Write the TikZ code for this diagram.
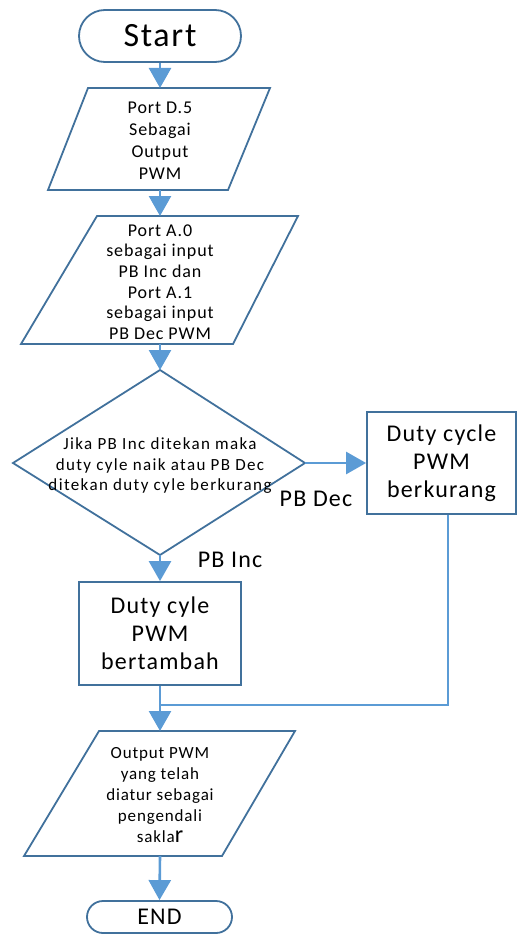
\documentclass[tikz,border=0pt]{standalone}
\usepackage{fontspec}
\setmainfont{Carlito}[LetterSpace=5]
\newfontfamily\widefont{Carlito}[LetterSpace=8]
\usetikzlibrary{arrows.meta,shapes.misc}
\definecolor{bord}{HTML}{41719C}
\definecolor{arrc}{HTML}{5B9BD5}
\begin{document}
\begin{tikzpicture}[x=1pt,y=-1pt,
  shp/.style={draw=bord, line width=1.8pt, line join=miter},
  term/.style={rounded rectangle, draw=bord, line width=1.8pt, inner sep=0pt},
  pbox/.style={rectangle, draw=bord, line width=1.8pt, inner sep=0pt, align=center},
  txt/.style={align=center, inner sep=0pt},
  arr/.style={draw=arrc, line width=2.6pt, -{Triangle[length=20pt,width=22pt]}},
  ln/.style={draw=arrc, line width=2.6pt},
  lbl/.style={inner sep=0pt, font=\fontsize{24}{28}\selectfont}]
\useasboundingbox (0,0) rectangle (518,934);
% Start
\node[term, minimum width=162pt, minimum height=52pt, font=\fontsize{34}{38}\selectfont] (start) at (160,36) {Start};
% Parallelogram 1
\draw[shp] (88,88) -- (270,88) -- (228,190) -- (48,190) -- cycle;
\coordinate (p1t) at (160,88);
\coordinate (p1b) at (160,190);
\node[txt, font=\fontsize{18}{22}\selectfont] (p1) at (160,141) {Port D.5\\Sebagai\\Output\\PWM};
% Parallelogram 2
\draw[shp] (97,216) -- (298,216) -- (233,344) -- (21,344) -- cycle;
\coordinate (p2t) at (160,216);
\coordinate (p2b) at (160,344);
\node[txt, font=\fontsize{18}{20.6}\selectfont] (p2) at (160,282) {Port A.0\\sebagai input\\PB Inc dan\\Port A.1\\sebagai input\\PB Dec PWM};
% Diamond
\draw[shp] (160,370) -- (305,463) -- (160,555) -- (13,463) -- cycle;
\coordinate (dt) at (160,370);
\coordinate (dr) at (305,463);
\coordinate (db) at (160,555);
\node[txt, font=\widefont\fontsize{17}{20.5}\selectfont] (d) at (160,466) {Jika PB Inc ditekan maka\\duty cyle naik atau PB Dec\\ditekan duty cyle berkurang};
% Right box
\node[pbox, minimum width=149pt, minimum height=102pt, font=\fontsize{24}{28}\selectfont] (r) at (441.5,463) {Duty cycle\\PWM\\berkurang};
% Box 2
\node[pbox, minimum width=162pt, minimum height=103pt, font=\fontsize{24}{28}\selectfont] (b2) at (160,633.5) {Duty cyle\\PWM\\bertambah};
% Parallelogram 3
\draw[shp] (99,731) -- (295,731) -- (222,856) -- (24,856) -- cycle;
\coordinate (p3t) at (160,731);
\coordinate (p3b) at (160,856);
\node[txt, font=\fontsize{17}{21}\selectfont] (p3) at (160,795) {Output PWM\\yang telah\\diatur sebagai\\pengendali\\sakla{\fontsize{24}{21}\selectfont r}};
% End
\node[term, minimum width=145pt, minimum height=32pt, font=\fontsize{24}{26}\selectfont] (end) at (159.5,917) {END};
% Labels
\node[lbl] (lpbdec) at (316,499) {PB Dec};
\node[lbl] (lpbinc) at (230,560) {PB Inc};
\coordinate (mg) at (160,705);
% Connectors
\draw[arr] (start.south) -- (p1t);
\draw[arr] (p1b) -- (p2t);
\draw[arr] (p2b) -- (dt);
\draw[arr] (dr) -- (r.west);
\draw[arr] (db) -- (b2.north);
\draw[ln] ([xshift=6.5pt]r.south) |- (mg);
\draw[arr] (b2.south) -- (p3t);
\draw[arr] (p3b) -- (end.north);
\end{tikzpicture}
\end{document}
